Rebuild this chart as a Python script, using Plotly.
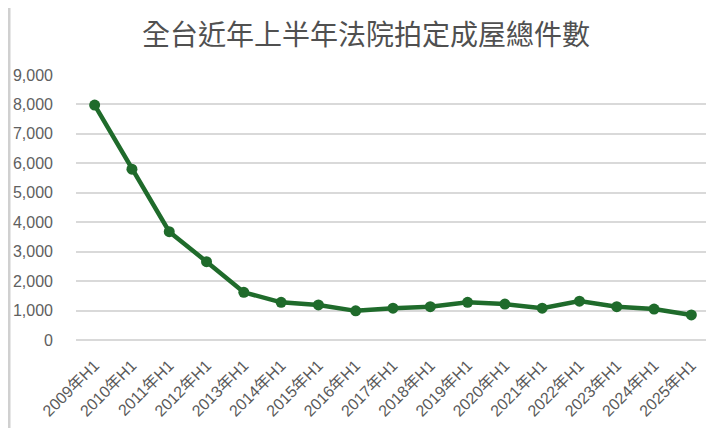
import plotly.graph_objects as go

categories = ["2009年H1", "2010年H1", "2011年H1", "2012年H1", "2013年H1", "2014年H1",
              "2015年H1", "2016年H1", "2017年H1", "2018年H1", "2019年H1", "2020年H1",
              "2021年H1", "2022年H1", "2023年H1", "2024年H1", "2025年H1"]
values = [7980, 5800, 3680, 2660, 1620, 1280, 1190, 990, 1080, 1130, 1280, 1220,
          1080, 1320, 1130, 1050, 850]
y_ticks = [0, 1000, 2000, 3000, 4000, 5000, 6000, 7000, 8000, 9000]
title_text = "全台近年上半年法院拍定成屋總件數"

GREEN = "#1f6b2b"

fig = go.Figure()
fig.add_trace(go.Scatter(
    x=categories, y=values, mode="lines+markers",
    line=dict(color=GREEN, width=4.5),
    marker=dict(color=GREEN, size=11),
    showlegend=False,
))

fig.update_layout(
    width=706, height=427,
    margin=dict(l=68, r=4, t=67, b=95, autoexpand=False),
    paper_bgcolor="white", plot_bgcolor="white",
    title=dict(text=title_text, x=0.507, xanchor="center", xref="container",
               y=0.937, yanchor="middle", yref="container",
               font=dict(family="Noto Sans CJK TC", size=28, color="#505050")),
    font=dict(family="Noto Sans CJK TC, Liberation Sans", color="#595959"),
)
fig.update_xaxes(
    type="category", tickangle=-45, showgrid=False, showline=False,
    ticks="", automargin=False, ticklabelstandoff=12,
    tickfont=dict(size=16, color="#5a5a5a", family="Liberation Sans, Noto Sans CJK TC"),
    range=[-0.5, len(categories) - 0.5],
)
fig.update_yaxes(
    range=[0, 9000], tickvals=y_ticks, tickformat=",d",
    showgrid=True, gridcolor="#d9d9d9", gridwidth=1.5,
    zeroline=True, zerolinecolor="#d9d9d9", zerolinewidth=1.5,
    showline=False, ticks="", ticklen=0, automargin=False, ticklabelstandoff=22,
    tickfont=dict(size=16, color="#606060", family="Liberation Sans"),
)
fig.add_shape(type="line", xref="paper", yref="paper",
              x0=-67/634, x1=-67/634, y0=-88/265, y1=1+67/265,
              line=dict(color="#d0d0d0", width=3))

fig.write_html("out.html")
